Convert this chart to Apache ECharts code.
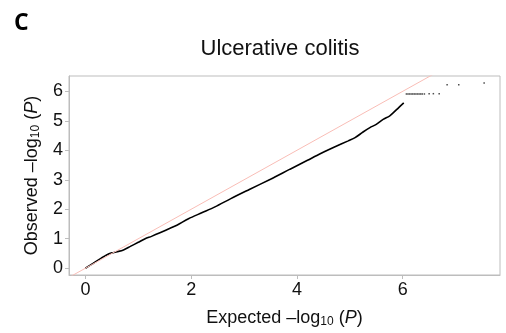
<!DOCTYPE html>
<html>
<head>
<meta charset="utf-8">
<script src="https://cdn.jsdelivr.net/npm/echarts@6/dist/echarts.min.js"></script>
<style>
html,body{margin:0;padding:0;background:#fff;}
#chart{width:506px;height:333px;}
</style>
</head>
<body>
<div id="chart"></div>
<script>
// Expected -log10(P) vs observed -log10(P), main dense part of the QQ curve
const expectedMain = [0, 0.15, 0.3, 0.4, 0.5, 0.6, 0.72, 0.85, 1.0, 1.13, 1.25, 1.41, 1.57, 1.73, 1.95, 2.2, 2.45, 2.75, 3.1, 3.5, 3.87, 4.2, 4.44, 4.7, 4.97, 5.1, 5.25, 5.38, 5.5, 5.63, 5.75, 5.82, 5.92, 6.02];
const observedMain = [0, 0.17, 0.34, 0.45, 0.52, 0.56, 0.62, 0.74, 0.88, 1.0, 1.08, 1.2, 1.33, 1.46, 1.68, 1.88, 2.08, 2.36, 2.67, 3.02, 3.36, 3.66, 3.88, 4.1, 4.32, 4.43, 4.62, 4.77, 4.88, 5.05, 5.16, 5.27, 5.44, 5.61];
// Sparse tail points
const expectedTail = [6.07, 6.10, 6.13, 6.16, 6.19, 6.22, 6.25, 6.28, 6.31, 6.34, 6.37, 6.41, 6.50, 6.58, 6.69, 6.84, 7.06, 7.54];
const observedTail = [5.91, 5.91, 5.91, 5.91, 5.91, 5.91, 5.91, 5.91, 5.91, 5.91, 5.91, 5.91, 5.92, 5.92, 5.92, 6.22, 6.22, 6.28];
// Reference y = x line
const refX = [-1, 9];
const refY = [-1, 9];
const xTicks = [0, 2, 4, 6];
const yTicks = [0, 1, 2, 3, 4, 5, 6];
const titleText = 'Ulcerative colitis';
const panelLabel = 'C';

const chart = echarts.init(document.getElementById('chart'));
const font = '"Liberation Sans", Arial, sans-serif';
const rich = {
  a: {fontSize: 18, fontFamily: font, color: '#111'},
  i: {fontSize: 18, fontFamily: font, color: '#111', fontStyle: 'italic'},
  s: {fontSize: 12, fontFamily: font, color: '#111', verticalAlign: 'bottom', padding: [8, 0, 0, 0]}
};
chart.setOption({
  animation: false,
  backgroundColor: '#fff',
  title: [
    {text: panelLabel, left: 9, top: 7, textStyle: {fontSize: 23, fontWeight: 'bold', fontFamily: '"Open Sans", sans-serif', color: '#000'}},
    {text: titleText, left: 275, textAlign: 'center', top: 33, textStyle: {fontSize: 22, fontWeight: 'normal', fontFamily: font, color: '#111'}}
  ],
  grid: {left: 69, top: 76, right: 6, bottom: 55, show: true, borderColor: '#bdbdbd', borderWidth: 1},
  xAxis: {
    type: 'value', min: -0.31, max: 7.84,
    name: '{a|Expected –log}{s|10}{a| (}{i|P}{a|)}',
    nameLocation: 'middle', nameGap: 33,
    nameTextStyle: {rich: rich},
    axisLine: {show: true, onZero: false, lineStyle: {color: '#bdbdbd'}},
    axisTick: {show: true, length: 4, customValues: xTicks, lineStyle: {color: '#bdbdbd'}},
    axisLabel: {customValues: xTicks, fontSize: 18, fontFamily: font, color: '#111', margin: 6},
    splitLine: {show: false}
  },
  yAxis: {
    type: 'value', min: -0.23, max: 6.52,
    name: '{a|Observed –log}{s|10}{a| (}{i|P}{a|)}',
    nameLocation: 'middle', nameGap: 27, nameRotate: 90,
    nameTextStyle: {rich: rich},
    axisLine: {show: true, onZero: false, lineStyle: {color: '#bdbdbd'}},
    axisTick: {show: true, length: 4, customValues: yTicks, lineStyle: {color: '#bdbdbd'}},
    axisLabel: {customValues: yTicks, fontSize: 18, fontFamily: font, color: '#111', margin: 6},
    splitLine: {show: false}
  },
  series: [
    {
      type: 'line', data: expectedMain.map((x, i) => [x, observedMain[i]]),
      showSymbol: false, smooth: 0.3, lineStyle: {color: '#000', width: 1.6}, z: 2
    },
    {
      type: 'scatter', data: expectedTail.map((x, i) => [x, observedTail[i]]),
      symbol: 'rect', symbolSize: 1.5, itemStyle: {color: '#222'}, z: 2
    },
    {
      type: 'line', data: refX.map((x, i) => [x, refY[i]]),
      showSymbol: false, lineStyle: {color: '#f9bdb6', width: 1}, z: 3, clip: true
    }
  ]
});
</script>
</body>
</html>
